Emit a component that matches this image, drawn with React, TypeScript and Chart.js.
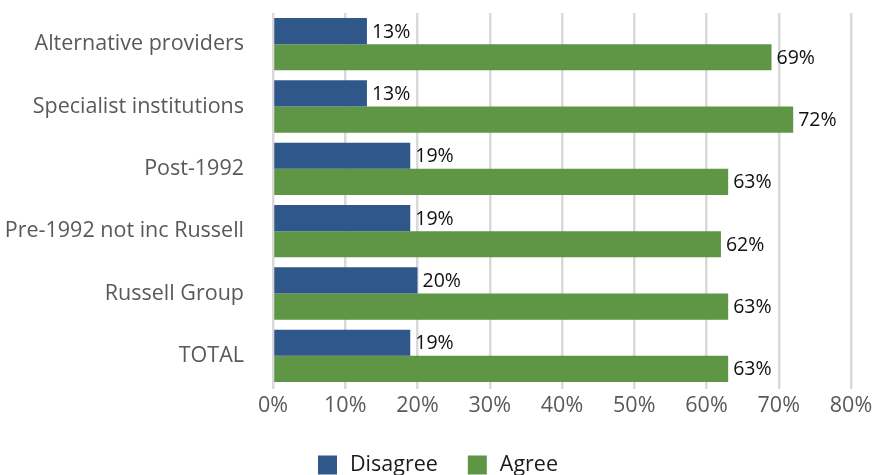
import React, { useEffect, useRef } from "react";
import { Chart, registerables } from "chart.js";

Chart.register(...registerables);

const categories = [
  "Alternative providers",
  "Specialist institutions",
  "Post-1992",
  "Pre-1992 not inc Russell",
  "Russell Group",
  "TOTAL",
];
const disagree = [13, 13, 19, 19, 20, 19];
const agree = [69, 72, 63, 62, 63, 63];
const seriesNames = ["Disagree", "Agree"];
const seriesColors = ["#2F5789", "#5E9645"];

const FONT = "'Open Sans', 'Noto Sans', sans-serif";

const valueLabels = {
  id: "valueLabels",
  afterDatasetsDraw(chart: any) {
    const ctx = chart.ctx;
    ctx.save();
    ctx.font = `19.5px ${FONT}`;
    ctx.fillStyle = "#111111";
    ctx.textAlign = "left";
    ctx.textBaseline = "middle";
    chart.data.datasets.forEach((ds: any, di: number) => {
      const meta = chart.getDatasetMeta(di);
      meta.data.forEach((bar: any, i: number) => {
        ctx.fillText(ds.data[i] + "%", bar.x + 5, bar.y + 1);
      });
    });
    ctx.restore();
  },
};

const customLegend = {
  id: "customLegend",
  afterDraw(chart: any) {
    const ctx = chart.ctx;
    ctx.save();
    ctx.font = `21.5px ${FONT}`;
    ctx.textBaseline = "middle";
    ctx.textAlign = "left";
    const box = 19;
    const gap = 13;
    const spacing = 30;
    const widths = seriesNames.map((n) => ctx.measureText(n).width);
    const total = widths.reduce((a, w) => a + box + gap + w, 0) + spacing * (seriesNames.length - 1);
    let x = 438 - total / 2;
    const cy = 465;
    seriesNames.forEach((n, i) => {
      ctx.fillStyle = seriesColors[i];
      ctx.fillRect(x, cy - box / 2, box, box);
      ctx.fillStyle = "#1a1a1a";
      ctx.fillText(n, x + box + gap, cy);
      x += box + gap + widths[i] + spacing;
    });
    ctx.restore();
  },
};

export default function App() {
  const ref = useRef<HTMLCanvasElement>(null);
  useEffect(() => {
    if (!ref.current) return;
    const chart = new Chart(ref.current, {
      type: "bar",
      data: {
        labels: categories,
        datasets: [
          { label: seriesNames[0], data: disagree, backgroundColor: seriesColors[0], barPercentage: 1, categoryPercentage: 0.84 },
          { label: seriesNames[1], data: agree, backgroundColor: seriesColors[1], barPercentage: 1, categoryPercentage: 0.84 },
        ],
      },
      options: {
        indexAxis: "y",
        animation: false,
        responsive: false,
        maintainAspectRatio: false,
        layout: { padding: { top: 13, right: 22, left: 0, bottom: 0 } },
        plugins: { legend: { display: false }, tooltip: { enabled: false } },
        scales: {
          x: {
            min: 0,
            max: 80,
            ticks: {
              stepSize: 10,
              callback: (v: any) => v + "%",
              color: "#595959",
              font: { family: FONT, size: 21.5 },
              padding: 4,
            },
            grid: { color: "#D9D9D9", lineWidth: 2.5, tickLength: 2, tickColor: "#D9D9D9" },
            border: { display: false },
            afterFit: (s: any) => {
              s.height = 88;
              s.paddingLeft = 0;
              s.paddingRight = 0;
            },
          },
          y: {
            ticks: { color: "#595959", font: { family: FONT, size: 21.5 }, padding: 29 },
            grid: { display: false, drawTicks: false },
            border: { display: false },
            afterFit: (s: any) => {
              s.width = 273;
              s.paddingTop = 0;
              s.paddingBottom = 0;
            },
          },
        },
      },
      plugins: [valueLabels, customLegend],
    });
    return () => chart.destroy();
  }, []);
  return (
    <div style={{ position: "absolute", left: 0, top: 0, width: 873, height: 475, background: "#fff" }}>
      <canvas ref={ref} width={873} height={475} style={{ width: 873, height: 475 }} />
    </div>
  );
}
